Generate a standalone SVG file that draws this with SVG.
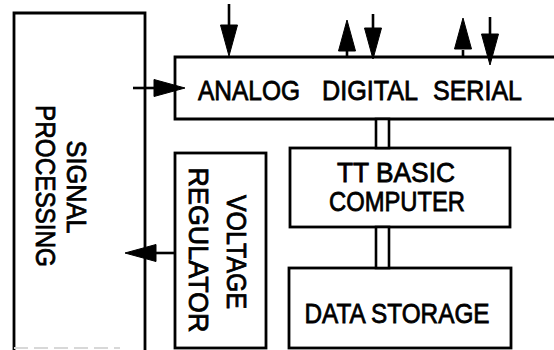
<svg xmlns="http://www.w3.org/2000/svg" xmlns:xlink="http://www.w3.org/1999/xlink" width="554" height="350" viewBox="0 0 554 350">
<style>
.box{fill:none;stroke:#000;stroke-width:2.8}
.ln{fill:none;stroke:#000;stroke-width:2.6}
.bus{fill:#fff;stroke:#000;stroke-width:2.6}
.ah{fill:#000;stroke:#000;stroke-width:1}
.t{font-family:"Liberation Sans",Arial,Helvetica,sans-serif;font-size:28px;fill:#000;stroke:#000;stroke-width:0.8}
.faint{fill:none;stroke:#d8d8d8;stroke-width:2;stroke-dasharray:14 6}
</style>
<defs>
<path id="ah" d="M0,0 L-8.5,-31 L8.5,-31 Z"/>
</defs>
<rect width="554" height="350" fill="#fff"/>
<g id="signal-processing">
<path class="box" d="M14,350 V13 H145 V350"/>
<path class="faint" d="M14,348 H120"/>
<text class="t" text-anchor="middle" transform="translate(67,187) rotate(90)" textLength="93" lengthAdjust="spacingAndGlyphs">SIGNAL</text>
<text class="t" text-anchor="middle" transform="translate(36,186) rotate(90)" textLength="162" lengthAdjust="spacingAndGlyphs">PROCESSING</text>
</g>
<g id="analog-digital-serial">
<path class="box" d="M554,57 H175 V119 H554"/>
<text class="t" y="100"><tspan x="198" textLength="102" lengthAdjust="spacingAndGlyphs">ANALOG</tspan><tspan x="322" textLength="96" lengthAdjust="spacingAndGlyphs">DIGITAL</tspan><tspan x="433" textLength="89" lengthAdjust="spacingAndGlyphs">SERIAL</tspan></text>
</g>
<g id="tt-basic-computer">
<rect class="box" x="290" y="148" width="220" height="79"/>
<text class="t" x="396" y="182" text-anchor="middle" textLength="118" lengthAdjust="spacingAndGlyphs">TT BASIC</text>
<text class="t" x="397" y="211" text-anchor="middle" textLength="136" lengthAdjust="spacingAndGlyphs">COMPUTER</text>
</g>
<g id="voltage-regulator">
<rect class="box" x="175" y="153" width="91" height="195"/>
<text class="t" text-anchor="middle" transform="translate(227,252) rotate(90)" textLength="114" lengthAdjust="spacingAndGlyphs">VOLTAGE</text>
<text class="t" text-anchor="middle" transform="translate(189,250) rotate(90)" textLength="165" lengthAdjust="spacingAndGlyphs">REGULATOR</text>
</g>
<g id="data-storage">
<rect class="box" x="289" y="268" width="222" height="80"/>
<text class="t" x="397" y="323" text-anchor="middle" textLength="185" lengthAdjust="spacingAndGlyphs">DATA STORAGE</text>
</g>
<g id="connectors">
<rect class="bus" x="376" y="119" width="13" height="29"/>
<rect class="bus" x="376" y="227" width="13" height="41"/>
<path class="ln" d="M229,4 V30"/>
<use href="#ah" class="ah" transform="translate(229,56)"/>
<path class="ln" d="M347,50 V57"/>
<use href="#ah" class="ah" transform="translate(347,20) rotate(180)"/>
<path class="ln" d="M373,14 V32"/>
<use href="#ah" class="ah" transform="translate(373,59)"/>
<path class="ln" d="M463,50 V57"/>
<use href="#ah" class="ah" transform="translate(463,18) rotate(180)"/>
<path class="ln" d="M490,17 V36"/>
<use href="#ah" class="ah" transform="translate(490,65)"/>
<path class="ln" d="M133,88 H158"/>
<use href="#ah" class="ah" transform="translate(185,88) rotate(-90)"/>
<path class="ln" d="M152,253 H175"/>
<use href="#ah" class="ah" transform="translate(125,253) rotate(90)"/>
</g>
</svg>
